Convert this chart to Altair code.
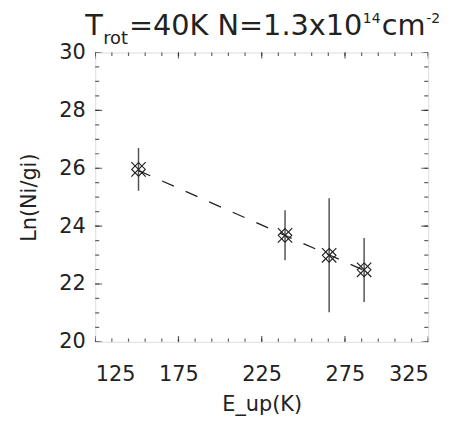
import altair as alt
import pandas as pd

# data
e_up = [151, 239, 265.5, 286.5]
ln_n = [25.96, 23.68, 22.99, 22.49]
err_lo = [25.22, 22.82, 21.02, 21.38]
err_hi = [26.70, 24.55, 24.96, 23.59]

fit_x = [151, 286.5]
fit_y = [25.92, 22.47]

x_major = [125, 175, 225, 275, 325]
x_minor = [v for v in range(125, 326, 10)]
y_major = [20, 22, 24, 26, 28, 30]
y_minor = [20 + 0.5 * i for i in range(21)]

# title pieces: T_rot=40K N=1.3x10^14 cm^-2
title_main1 = ["T"]
title_sub = ["rot"]
title_main2 = ["=40K N=1.3x10"]
title_sup1 = ["14"]
title_main3 = ["cm"]
title_sup2 = ["-2"]

W, H = 336, 292
INK = "#222222"
FONT = "DejaVu Sans"

pts = pd.DataFrame({"x": e_up, "y": ln_n, "lo": err_lo, "hi": err_hi})
fit = pd.DataFrame({"x": fit_x, "y": fit_y})
xmaj = pd.DataFrame({"v": x_major})
xmin = pd.DataFrame({"v": x_minor})
ymaj = pd.DataFrame({"v": y_major})
ymin = pd.DataFrame({"v": y_minor})

xs = alt.Scale(domain=[125, 325], nice=False, zero=False)
ys = alt.Scale(domain=[20, 30], nice=False, zero=False)

xaxis = alt.Axis(values=x_major, ticks=False, grid=False, domain=False,
                 labelFontSize=21, labelPadding=22, labelFont=FONT, labelColor=INK,
                 title="E_up(K)", titleFontSize=21, titleFont=FONT, titleColor=INK,
                 titleFontWeight="normal", titlePadding=9)
yaxis = alt.Axis(values=y_major, ticks=False, grid=False, domain=False,
                 labelFontSize=21, labelPadding=10, labelFont=FONT, labelColor=INK,
                 title="Ln(Ni/gi)", titleFontSize=21, titleFont=FONT, titleColor=INK,
                 titleFontWeight="normal", titlePadding=20)

X = lambda f="x": alt.X(f"{f}:Q", scale=xs, axis=xaxis)
Y = lambda f="y": alt.Y(f"{f}:Q", scale=ys, axis=yaxis)

errbars = alt.Chart(pts).mark_rule(color="#555555", strokeWidth=1.5).encode(
    x=X(), y=alt.Y("lo:Q", scale=ys, axis=yaxis), y2="hi:Q")

line = alt.Chart(fit).mark_line(color=INK, strokeWidth=1.3, strokeDash=[13, 13]).encode(
    x=X(), y=Y())

xmark = alt.Chart(pts).mark_point(
    shape="M-1,-1L1,1M-1,1L1,-1", size=210, filled=False, color=INK, strokeWidth=1.2, opacity=1
).encode(x=X(), y=Y())
dmark = alt.Chart(pts).mark_point(
    shape="M0,-1L1,0L0,1L-1,0Z", size=190, filled=False, color=INK, strokeWidth=1.1, opacity=1
).encode(x=X(), y=Y())


def xticks(df, size):
    out = []
    for yy in (0, H):
        out.append(alt.Chart(df).mark_tick(clip=True, color=INK, thickness=1.2, size=size,
                                           orient="vertical").encode(
            x=alt.X("v:Q", scale=xs, axis=xaxis), y=alt.value(yy)))
    return out


def yticks(df, size):
    out = []
    for xx in (0, W):
        out.append(alt.Chart(df).mark_tick(clip=True, color=INK, thickness=1.2, size=size,
                                           orient="horizontal").encode(
            y=alt.Y("v:Q", scale=ys, axis=yaxis), x=alt.value(xx)))
    return out


def title_piece(words, px, py, fs):
    return alt.Chart(pd.DataFrame({"t": words})).mark_text(
        align="left", baseline="alphabetic", font=FONT, fontSize=fs, color=INK
    ).encode(text="t:N", x=alt.value(px), y=alt.value(py))


titles = [
    title_piece(title_main1, -10, -18, 29),
    title_piece(title_sub, 8, -9, 18),
    title_piece(title_main2, 34, -18, 29),
    title_piece(title_sup1, 270, -30, 14),
    title_piece(title_main3, 289, -18, 29),
    title_piece(title_sup2, 334, -30, 14),
]

layers = ([errbars, line, xmark, dmark] + xticks(xmin, 7) + xticks(xmaj, 12)
          + yticks(ymin, 8) + yticks(ymaj, 14) + titles)

chart = alt.layer(*layers).properties(
    width=W, height=H,
    autosize=alt.AutoSizeParams(type="none"),
    padding={"left": 88, "top": 43, "right": 25, "bottom": 80},
).configure_view(stroke=INK, strokeWidth=1.3).configure(background="white")

chart.save("out.html", embed_options={"renderer": "svg", "actions": False})
